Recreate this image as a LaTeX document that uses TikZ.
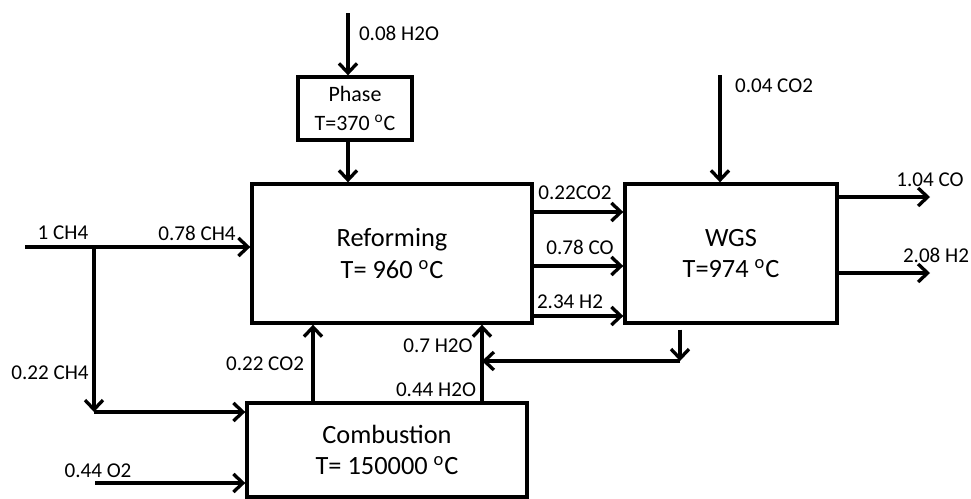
\documentclass[tikz,border=0pt]{standalone}
\usepackage{fontspec}
\setmainfont{Carlito}
\usetikzlibrary{arrows.meta,positioning}
\tikzset{
  unitbox/.style={ draw, line width=1.9pt, align=center, font=\fontsize{15}{18}\selectfont }
}
\tikzset{
  smallunit/.style={ draw, line width=1.9pt, align=center, inner sep=0pt, font=\fontsize{12.5}{16.5}\selectfont }
}
\tikzset{
  flow/.style={ inner sep=0pt, font=\fontsize{12}{14}\selectfont }
}
\tikzset{
  stream/.style={ line width=1.9pt, -{Straight Barb[length=1.9mm,width=3.6mm]} }
}
\newcommand{\degC}{\textsuperscript{o}C}

\begin{document}
\begin{tikzpicture}[x=0.2mm, y=-0.2mm]
      \useasboundingbox (0,0) rectangle (971,498);

      \node[smallunit, minimum width=2.28cm, minimum height=1.26cm] (phase) at (355,108.5) {Phase\\T=370 \degC};
      \node[unitbox, minimum width=5.6cm, minimum height=2.78cm] (reform) at (392,253.5) {Reforming\\T= 960 \degC};
      \node[unitbox, minimum width=4.24cm, minimum height=2.78cm] (wgs) at (731,253.5) {WGS\\T=974 \degC};
      \node[unitbox, minimum width=5.6cm, minimum height=1.88cm] (comb) at (387,450) {Combustion\\T= 150000 \degC};

      % free ends and bends
      \coordinate (waterin) at (348,13);
      \coordinate (feed) at (25,247);
      \coordinate (split) at (94,247);
      \coordinate (bend) at (94,412);
      \coordinate (oxin) at (95,483);
      \coordinate (fluegas) at (313,0);
      \coordinate (steam) at (482,0);
      \coordinate (wgsret) at (680,0);
      \coordinate (retdown) at (680,361);
      \coordinate (rowA) at (0,212);
      \coordinate (rowB) at (0,266);
      \coordinate (rowC) at (0,316);
      \coordinate (co2in) at (720,75);
      \coordinate (coout) at (930,197);
      \coordinate (h2out) at (930,273);

      % stream labels
      \node[flow] (lwater) at (399,33) {0.08 H2O};
      \node[flow] (lco2in) at (774,86) {0.04 CO2};
      \node[flow] (lfeed) at (63,233) {1 CH4};
      \node[flow] (lref) at (197,233) {0.78 CH4};
      \node[flow] (lfuel) at (50,373) {0.22 CH4};
      \node[flow] (lox) at (98,471) {0.44 O2};
      \node[flow] (lflue) at (265,364) {0.22 CO2};
      \node[flow] (lsteamA) at (438,346) {0.7 H2O};
      \node[flow] (lsteamB) at (436,390) {0.44 H2O};
      \node[flow] (lrowA) at (575,193) {0.22CO2};
      \node[flow] (lrowB) at (580,247) {0.78 CO};
      \node[flow] (lrowC) at (570,302) {2.34 H2};
      \node[flow] (lcoout) at (930,180) {1.04 CO};
      \node[flow] (lh2out) at (936,255) {2.08 H2};

      \begin{scope}[stream]
        \draw (waterin) -- (waterin |- phase.north);
        \draw (phase.south -| waterin) -- (waterin |- reform.north);

        \draw (feed) -- (feed -| reform.west);
        \draw (split) -- (bend);
        \draw (bend) -- (bend -| comb.west);
        \draw (oxin) -- (oxin -| comb.west);

        \draw (fluegas |- comb.north) -- (fluegas |- reform.south);
        \draw (steam |- comb.north) -- (steam |- reform.south);
        \draw ([yshift=-1mm]wgsret |- wgs.south) -- (retdown);
        \draw (retdown) -- (retdown -| steam);

        \draw (rowA -| reform.east) -- (rowA -| wgs.west);
        \draw (rowB -| reform.east) -- (rowB -| wgs.west);
        \draw (rowC -| reform.east) -- (rowC -| wgs.west);

        \draw (co2in) -- (co2in |- wgs.north);
        \draw (coout -| wgs.east) -- (coout);
        \draw (h2out -| wgs.east) -- (h2out);
      \end{scope}
    \end{tikzpicture}
\end{document}
